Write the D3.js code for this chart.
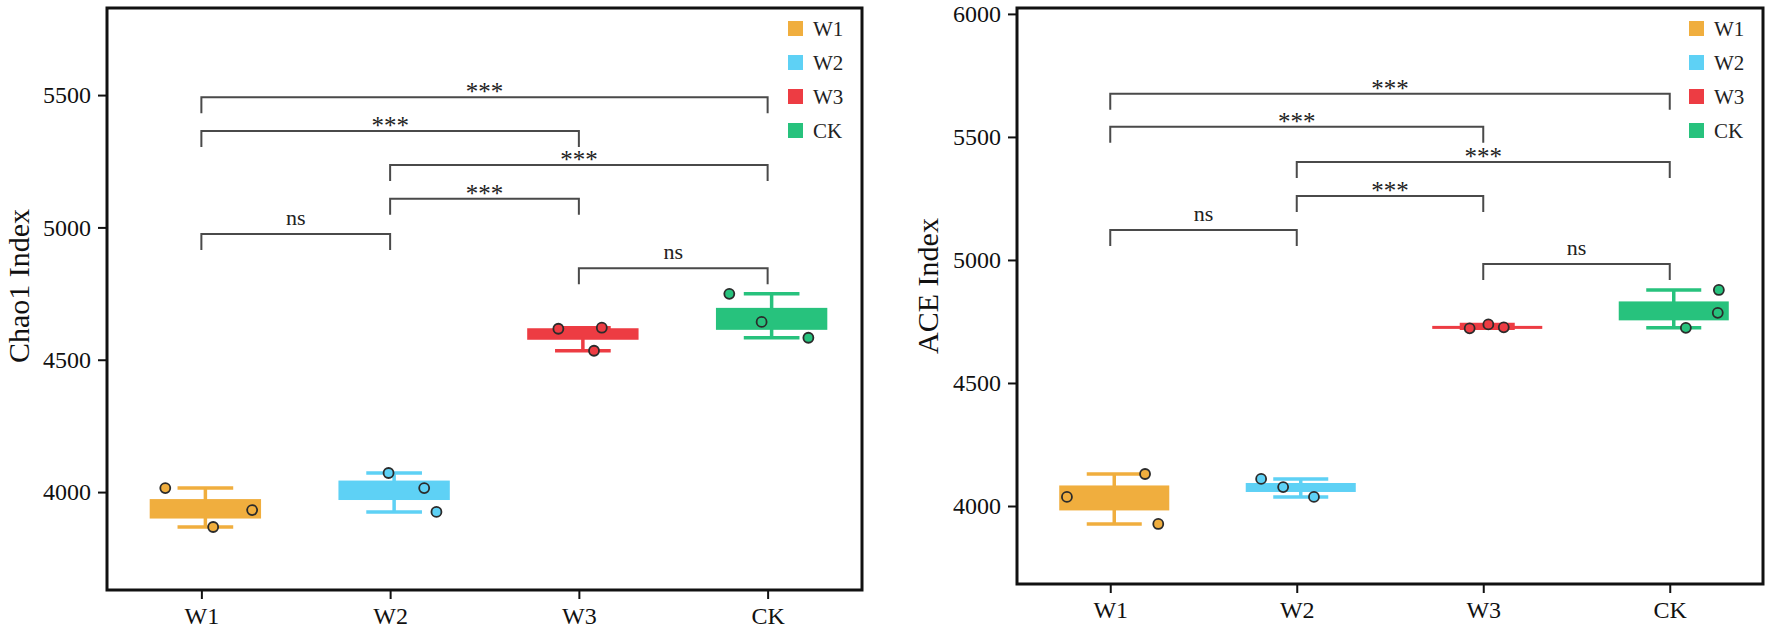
<!DOCTYPE html>
<html>
<head>
<meta charset="utf-8">
<script src="https://cdn.jsdelivr.net/npm/d3@7"></script>
<style>
body { margin: 0; background: #fff; }
svg text { font-family: "Liberation Serif", "Times New Roman", serif; }
</style>
</head>
<body>
<svg id="chart" width="1772" height="631"></svg>
<script>
var groups = ["W1", "W2", "W3", "CK"];
var colors = ["#F0AE3E", "#5ED1F5", "#ED3C43", "#27C27D"];

// three samples per group
var chao1Values = [[4015, 3868, 3932], [4072, 4015, 3925], [4617, 4621, 4534], [4749, 4643, 4583]];
var aceValues = [[4037, 4130, 3927], [4110, 4077, 4037], [4722, 4738, 4726], [4878, 4785, 4724]];

// horizontal jitter of each point, as a fraction of box width
var chao1Jitter = [[-0.36, 0.07, 0.42], [-0.05, 0.27, 0.38], [-0.22, 0.17, 0.10], [-0.38, -0.09, 0.33]];
var aceJitter = [[-0.43, 0.28, 0.40], [-0.36, -0.16, 0.12], [-0.16, 0.01, 0.15], [0.41, 0.40, 0.11]];

var chao1Ticks = [4000, 4500, 5000, 5500];
var aceTicks = [4000, 4500, 5000, 5500, 6000];

// [from, to, label, bracket height]
var chao1Sig = [["W1", "CK", "***", 5492], ["W1", "W3", "***", 5364], ["W2", "CK", "***", 5236],
                ["W2", "W3", "***", 5108], ["W1", "W2", "ns", 4975], ["W3", "CK", "ns", 4846]];
var aceSig = [["W1", "CK", "***", 5675], ["W1", "W3", "***", 5541], ["W2", "CK", "***", 5398],
              ["W2", "W3", "***", 5260], ["W1", "W2", "ns", 5122], ["W3", "CK", "ns", 4984]];

var svg = d3.select("#chart");

function drawPanel(p) {
    var g = svg.append("g");

    var x = d3.scalePoint().domain(groups).range([p.left, p.right]).padding(0.5);
    var y = d3.scaleLinear().domain(p.domain).range([p.bottom, p.top]);
    var boxW = x.step() * 0.59;
    var dodge = 4;

    var stats = groups.map(function(name, i) {
        var v = p.values[i].slice().sort(d3.ascending);
        return {
            name: name, i: i,
            min: v[0], max: v[v.length - 1],
            q1: d3.quantile(v, 0.25), q3: d3.quantile(v, 0.75),
            cx: x(name) + dodge
        };
    });

    // axes
    var ya = g.append("g")
        .attr("transform", "translate(" + p.left + ",0)")
        .call(d3.axisLeft(y).tickValues(p.ticks).tickFormat(d3.format("d")).tickSize(9).tickPadding(7));
    var xa = g.append("g")
        .attr("transform", "translate(0," + p.bottom + ")")
        .call(d3.axisBottom(x).tickSize(9).tickPadding(8));
    [ya, xa].forEach(function(a) {
        a.attr("font-family", null).attr("font-size", null);
        a.select(".domain").remove();
        a.selectAll(".tick line").attr("stroke", "#111").attr("stroke-width", 2);
        a.selectAll(".tick text").attr("font-size", 24).attr("fill", "#111");
    });

    // whiskers
    var wh = g.selectAll(".wh").data(stats).enter().append("g")
        .attr("stroke", function(d) { return colors[d.i]; })
        .attr("stroke-width", 3.5);
    wh.append("line")
        .attr("x1", function(d) { return d.cx; }).attr("x2", function(d) { return d.cx; })
        .attr("y1", function(d) { return y(d.max); }).attr("y2", function(d) { return y(d.min); });
    wh.append("line")
        .attr("x1", function(d) { return d.cx - boxW / 4; }).attr("x2", function(d) { return d.cx + boxW / 4; })
        .attr("y1", function(d) { return y(d.max); }).attr("y2", function(d) { return y(d.max); });
    wh.append("line")
        .attr("x1", function(d) { return d.cx - boxW / 4; }).attr("x2", function(d) { return d.cx + boxW / 4; })
        .attr("y1", function(d) { return y(d.min); }).attr("y2", function(d) { return y(d.min); });

    // boxes
    g.selectAll(".box").data(stats).enter().append("rect")
        .attr("x", function(d) { return d.cx - boxW / 2; })
        .attr("width", boxW)
        .attr("y", function(d) { return y(d.q3); })
        .attr("height", function(d) { return Math.max(3, y(d.q1) - y(d.q3)); })
        .attr("fill", function(d) { return colors[d.i]; });

    // points
    var pts = [];
    p.values.forEach(function(arr, i) {
        arr.forEach(function(v, j) {
            pts.push({ i: i, v: v, cx: stats[i].cx + p.jitter[i][j] * boxW });
        });
    });
    g.selectAll(".pt").data(pts).enter().append("circle")
        .attr("cx", function(d) { return d.cx; })
        .attr("cy", function(d) { return y(d.v); })
        .attr("r", 5)
        .attr("fill", function(d) { return colors[d.i]; })
        .attr("stroke", "#2b2b2b")
        .attr("stroke-width", 1.8);

    // significance brackets
    var sig = g.selectAll(".sig").data(p.sig).enter().append("g");
    sig.append("path")
        .attr("d", function(d) {
            var yb = y(d[3]);
            return "M" + x(d[0]) + "," + (yb + 16) + "V" + yb + "H" + x(d[1]) + "V" + (yb + 16);
        })
        .attr("fill", "none")
        .attr("stroke", "#4a4a4a")
        .attr("stroke-width", 2);
    sig.append("text")
        .attr("x", function(d) { return (x(d[0]) + x(d[1])) / 2; })
        .attr("y", function(d) { return y(d[3]) + (d[2] == "ns" ? -9 : 3); })
        .attr("text-anchor", "middle")
        .attr("font-size", function(d) { return d[2] == "ns" ? 22 : 25; })
        .attr("fill", "#222")
        .text(function(d) { return d[2]; });

    // frame
    g.append("rect")
        .attr("x", p.left).attr("y", p.top)
        .attr("width", p.right - p.left).attr("height", p.bottom - p.top)
        .attr("fill", "none")
        .attr("stroke", "#111")
        .attr("stroke-width", 3);

    // legend
    var lg = g.selectAll(".lg").data(groups).enter().append("g")
        .attr("transform", function(d, i) {
            return "translate(" + (p.right - 74) + "," + (p.top + 13 + i * 34) + ")";
        });
    lg.append("rect").attr("width", 15).attr("height", 15)
        .attr("fill", function(d, i) { return colors[i]; });
    lg.append("text").attr("x", 25).attr("y", 7.5).attr("dy", "0.35em")
        .attr("font-size", 21).attr("fill", "#222")
        .text(function(d) { return d; });

    // y title
    g.append("text")
        .attr("transform", "translate(" + p.titleX + ",286) rotate(-90)")
        .attr("text-anchor", "middle")
        .attr("font-size", 30)
        .attr("fill", "#111")
        .text(p.title);
}

drawPanel({
    left: 107, right: 862, top: 8, bottom: 590,
    domain: [3630, 5829], ticks: chao1Ticks,
    values: chao1Values, jitter: chao1Jitter, sig: chao1Sig,
    title: "Chao1 Index", titleX: 29
});

drawPanel({
    left: 1017, right: 1763, top: 8, bottom: 584,
    domain: [3683, 6024], ticks: aceTicks,
    values: aceValues, jitter: aceJitter, sig: aceSig,
    title: "ACE Index", titleX: 938
});
</script>
</body>
</html>
